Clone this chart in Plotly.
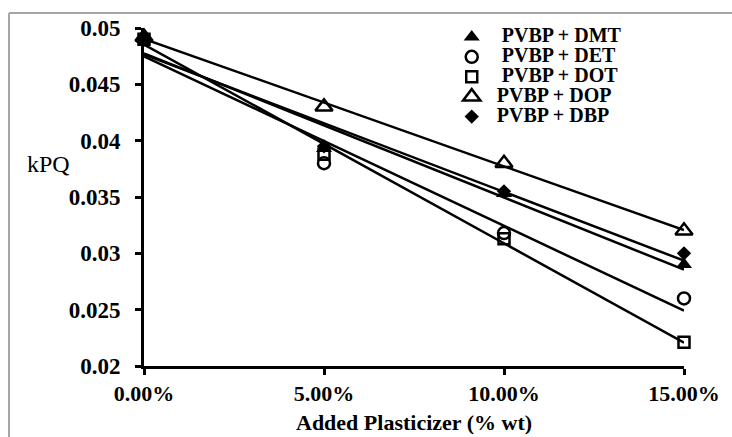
import numpy as np
import plotly.graph_objects as go

# Plasticizer loading (weight fraction) and kPQ for each blend
loading = [0.0, 0.05, 0.10, 0.15]
kpq_dmt = [0.0490, 0.0393, 0.0353, 0.0290]
kpq_det = [0.0490, 0.0380, 0.0318, 0.0260]
kpq_dot = [0.0490, 0.0388, 0.0313, 0.0221]
kpq_dop = [0.0492, 0.0430, 0.0380, 0.0320]
kpq_dbp = [0.0490, 0.0395, 0.0355, 0.0300]

series_names = ["PVBP + DMT", "PVBP + DET", "PVBP + DOT", "PVBP + DOP", "PVBP + DBP"]
legend_pad = ["\u00a0\u00a0", "\u00a0\u00a0", "\u00a0\u00a0", "\u00a0", "\u00a0"]
y_tick_vals = [0.02, 0.025, 0.03, 0.035, 0.04, 0.045, 0.05]
y_tick_text = ["0.02", "0.025", "0.03", "0.035", "0.04", "0.045", "0.05"]
x_tick_vals = [0.0, 0.05, 0.10, 0.15]
x_tick_text = ["0.00%", "5.00%", "10.00%", "15.00%"]

series_values = [kpq_dmt, kpq_det, kpq_dot, kpq_dop, kpq_dbp]
symbols = ["triangle-up", "circle-open", "square-open", "triangle-up-open", "diamond"]
sizes = [14, 12, 11, 15, 11]

SERIF = "Times New Roman, Liberation Serif, Tinos, DejaVu Serif, serif"
fig = go.Figure()

# Linear trend lines (least squares) for each blend
xs = np.array(loading)
for vals in series_values:
    slope, intercept = np.polyfit(xs, np.array(vals), 1)
    fig.add_trace(go.Scatter(
        x=loading, y=list(slope * xs + intercept), mode="lines",
        line=dict(color="black", width=2.5), showlegend=False,
        hoverinfo="skip", cliponaxis=False,
    ))

# Measured points
for name, pad, vals, sym, sz in zip(series_names, legend_pad, series_values, symbols, sizes):
    fig.add_trace(go.Scatter(
        x=loading, y=vals, mode="markers", cliponaxis=False,
        name=f'<span style="font-size:20px">{pad}{name}</span>',
        marker=dict(symbol=sym, size=sz, color="black",
                    line=dict(color="black", width=2.5 if "open" in sym else 0)),
    ))

L, R, T, B = 144, 44, 28, 71
W, H = 732, 437
pw, ph = W - L - R, H - T - B

def px_x(p):
    return (p - L) / pw

def px_y(p):
    return (H - B - p) / ph

fig.update_layout(
    width=W, height=H,
    margin=dict(l=L, r=R, t=T, b=B, pad=0),
    paper_bgcolor="white", plot_bgcolor="white",
    font=dict(family=SERIF, color="black"),
    showlegend=True,
    legend=dict(
        x=px_x(454), y=px_y(22), xanchor="left", yanchor="top",
        bgcolor="rgba(0,0,0,0)", borderwidth=0,
        font=dict(family=SERIF, size=13, color="black", weight="bold"),
        itemwidth=30, tracegroupgap=0,
    ),
    xaxis=dict(
        range=[0, 0.15], tickvals=x_tick_vals, ticktext=x_tick_text,
        showline=True, linecolor="black", linewidth=3,
        ticks="outside", ticklen=6, tickwidth=2.5, tickcolor="black",
        showgrid=False, zeroline=False,
        tickfont=dict(family=SERIF, size=22, color="black", weight="bold"),
    ),
    yaxis=dict(
        range=[0.02, 0.05], tickvals=y_tick_vals, ticktext=y_tick_text,
        showline=True, linecolor="black", linewidth=3,
        ticks="outside", ticklen=6, tickwidth=2.5, tickcolor="black",
        ticklabelstandoff=10,
        showgrid=False, zeroline=False,
        tickfont=dict(family=SERIF, size=23, color="black", weight="bold"),
    ),
    annotations=[
        dict(text="Added Plasticizer (% wt)", xref="paper", yref="paper",
             x=0.5, y=px_y(422), xanchor="center", yanchor="middle",
             showarrow=False,
             font=dict(family=SERIF, size=22, color="black", weight="bold")),
        dict(text="kPQ", xref="paper", yref="paper",
             x=px_x(48), y=px_y(164), xanchor="center", yanchor="middle",
             showarrow=False,
             font=dict(family=SERIF, size=24, color="black")),
    ],
    shapes=[
        dict(type="line", xref="paper", yref="paper",
             x0=px_x(8), x1=px_x(740), y0=px_y(13), y1=px_y(13),
             line=dict(color="#a6a6a6", width=2)),
        dict(type="line", xref="paper", yref="paper",
             x0=px_x(8), x1=px_x(8), y0=px_y(13), y1=px_y(445),
             line=dict(color="#a6a6a6", width=2)),
    ],
)

fig.write_html("out.html")
